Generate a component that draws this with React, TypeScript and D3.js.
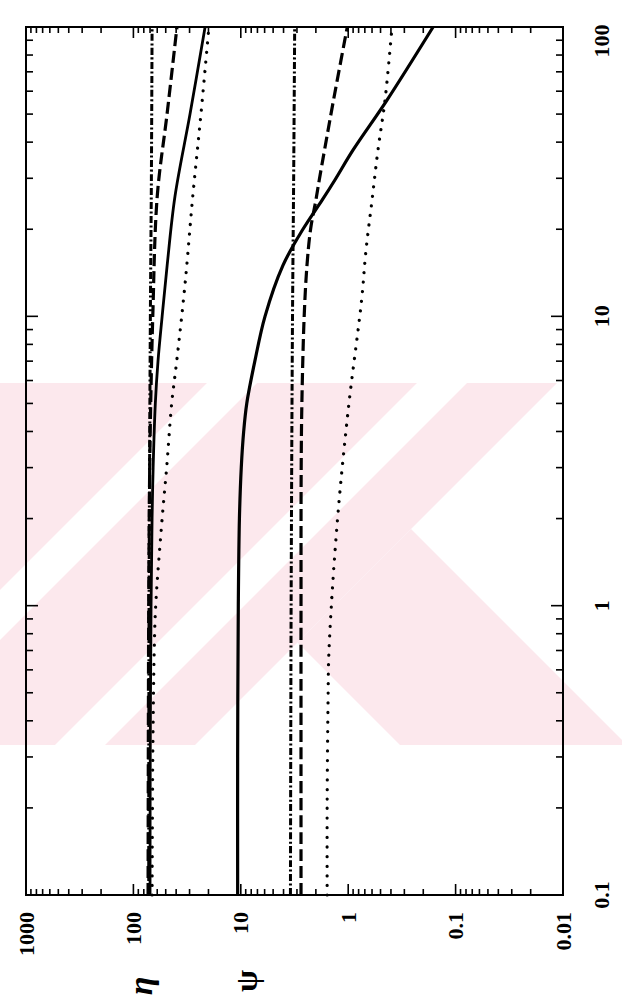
import React from "react";
import * as d3 from "d3";

// Curves: [t, value] pairs, t on the log axis along the right edge
const etaSolid: [number, number][] = [
  [0.1, 70], [0.3, 69.7], [1, 68.5], [2, 67], [3, 65.5], [5, 62.5], [7, 59],
  [10, 54], [15, 48.5], [26, 41], [50, 29.7], [100, 21.5],
];
const etaDashed: [number, number][] = [
  [0.1, 73], [1, 72], [3, 70.5], [5, 69], [10, 66], [26, 60], [50, 48.6], [100, 39.3],
];
const etaDashDot: [number, number][] = [
  [0.1, 72], [1, 71.5], [10, 69.5], [30, 68], [100, 67],
];
const etaDotted: [number, number][] = [
  [0.1, 67], [0.3, 66], [0.7, 64], [1, 62], [2, 54], [3, 49], [5, 44],
  [7, 39.5], [13, 33], [26, 28], [50, 23.5], [100, 19.8],
];

const psiSolid: [number, number][] = [
  [0.1, 10.7], [0.3, 10.7], [1, 10.55], [2, 10.3], [3, 9.9], [4, 9.4], [5, 8.8],
  [7, 7.4], [10, 5.95], [15, 4.05], [20, 2.64], [25.2, 1.75], [29.6, 1.33],
  [37.6, 0.9], [55.9, 0.435], [100, 0.162],
];
const psiDashed: [number, number][] = [
  [0.1, 2.75], [1, 2.75], [3, 2.74], [5, 2.7], [10, 2.57], [15, 2.42], [20, 2.24],
  [25.2, 2.0], [29.6, 1.86], [37.6, 1.66], [55.9, 1.37], [100, 1.02],
];
const psiDashDot: [number, number][] = [
  [0.1, 3.45], [1, 3.4], [10, 3.3], [30, 3.22], [100, 3.15],
];
const psiDotted: [number, number][] = [
  [0.1, 1.57], [0.21, 1.57], [0.47, 1.54], [0.7, 1.51], [1.9, 1.27], [4.74, 1.0],
  [11.4, 0.75], [16.9, 0.683], [25.2, 0.6], [37.6, 0.528], [55.9, 0.454], [100, 0.391],
];

// Tick labels
const valueTickLabels = ["1000", "100", "10", "1", "0.1", "0.01"];
const valueTicks = [1000, 100, 10, 1, 0.1, 0.01];
const timeTickLabels = ["0.1", "1", "10", "100"];
const timeTicks = [0.1, 1, 10, 100];

const W = 622;
const H = 1007;
const left = 26;
const right = 563;
const top = 27;
const bottom = 895;

const vScale = d3.scaleLog().domain([1000, 0.01]).range([left, right]);
const tScale = d3.scaleLog().domain([100, 0.1]).range([top, bottom]);

const line = d3
  .line<[number, number]>()
  .x((d) => vScale(d[1]))
  .y((d) => tScale(d[0]))
  .curve(d3.curveCatmullRom.alpha(0.5));

function logTicks(lo: number, hi: number): { v: number; major: boolean }[] {
  const out: { v: number; major: boolean }[] = [];
  for (let e = Math.round(Math.log10(lo)); e < Math.round(Math.log10(hi)); e++) {
    const base = Math.pow(10, e);
    out.push({ v: base, major: true });
    for (let k = 2; k <= 9; k++) out.push({ v: k * base, major: false });
  }
  out.push({ v: hi, major: true });
  return out;
}

const font = "'Liberation Serif', 'DejaVu Serif', serif";

type Curve = { data: [number, number][]; dash?: string; width: number; cap: "butt" | "round" };

const curves: Curve[] = [
  { data: etaDashDot, dash: "7 2.5 2 2.5", width: 3, cap: "butt" },
  { data: etaDashed, dash: "12 5", width: 3.2, cap: "butt" },
  { data: etaSolid, width: 2.8, cap: "butt" },
  { data: etaDotted, dash: "0.1 9.5", width: 3.2, cap: "round" },
  { data: psiDashDot, dash: "7 2.5 2 2.5", width: 3, cap: "butt" },
  { data: psiDashed, dash: "12 5", width: 3.2, cap: "butt" },
  { data: psiSolid, width: 3.2, cap: "butt" },
  { data: psiDotted, dash: "0.1 9.5", width: 3.2, cap: "round" },
];

// faint diagonal backdrop band
const bandTop = 383;
const bandBottom = 745;
const pinkShapes = [
  "0,383 557,383 195,745 0,745",
  "411,529 627,745 400,745 297.5,642.5",
];
const whiteStripes = [
  "207,383 257,383 0,640 0,590",
  "417,383 467,383 105,745 55,745",
];

export default function App() {
  const vTicks = logTicks(0.01, 1000);
  const tTicks = logTicks(0.1, 100);
  return (
    <svg
      width={W}
      height={H}
      viewBox={`0 0 ${W} ${H}`}
      style={{ position: "absolute", left: 0, top: 0, background: "#fff" }}
    >
      <defs>
        <clipPath id="band">
          <rect x={0} y={bandTop} width={W} height={bandBottom - bandTop} />
        </clipPath>
      </defs>
      <rect x={0} y={0} width={W} height={H} fill="#fff" />
      <g clipPath="url(#band)">
        {pinkShapes.map((p, i) => (
          <polygon key={"p" + i} points={p} fill="#fce8ed" />
        ))}
        {whiteStripes.map((p, i) => (
          <polygon key={"w" + i} points={p} fill="#fff" />
        ))}
      </g>
      {/* value-axis ticks on bottom and top edges */}
      {vTicks.map((t, i) => {
        const x = vScale(t.v);
        const len = t.major ? 11 : 6;
        return (
          <g key={"v" + i} stroke="#000" strokeWidth={1.6}>
            <line x1={x} x2={x} y1={bottom} y2={bottom - len} />
            <line x1={x} x2={x} y1={top} y2={top + len} />
          </g>
        );
      })}
      {/* time-axis ticks on left and right edges */}
      {tTicks.map((t, i) => {
        const y = tScale(t.v);
        const len = t.major ? 12 : 7;
        return (
          <g key={"t" + i} stroke="#000" strokeWidth={1.6}>
            <line x1={left} x2={left + len} y1={y} y2={y} />
            <line x1={right} x2={right - len} y1={y} y2={y} />
          </g>
        );
      })}
      <rect
        x={left}
        y={top}
        width={right - left}
        height={bottom - top}
        fill="none"
        stroke="#000"
        strokeWidth={2}
      />
      {curves.map((c, i) => (
        <path
          key={"c" + i}
          d={line(c.data) || ""}
          fill="none"
          stroke="#000"
          strokeWidth={c.width}
          strokeDasharray={c.dash}
          strokeLinecap={c.cap}
        />
      ))}
      {/* value labels below the frame, rotated */}
      {valueTicks.map((v, i) => {
        const x = vScale(v);
        return (
          <text
            key={"vl" + i}
            transform={`translate(${x},912) rotate(-90)`}
            textAnchor="end"
            dominantBaseline="central"
            fontFamily={font}
            fontWeight="bold"
            fontSize={22}
          >
            {valueTickLabels[i]}
          </text>
        );
      })}
      {/* time labels right of the frame, rotated */}
      {timeTicks.map((t, i) => {
        const y = t === 100 ? 41 : tScale(t);
        return (
          <text
            key={"tl" + i}
            transform={`translate(601,${y}) rotate(-90)`}
            textAnchor="middle"
            dominantBaseline="central"
            fontFamily={font}
            fontWeight="bold"
            fontSize={22}
          >
            {timeTickLabels[i]}
          </text>
        );
      })}
      <text
        transform={`translate(140,986) rotate(-90)`}
        textAnchor="middle"
        dominantBaseline="central"
        fontFamily={font}
        fontStyle="italic"
        fontWeight="bold"
        fontSize={34}
      >
        η
      </text>
      <text
        transform={`translate(246,981) rotate(-90)`}
        textAnchor="middle"
        dominantBaseline="central"
        fontFamily={font}
        fontWeight="bold"
        fontSize={32}
      >
        ψ
      </text>
    </svg>
  );
}
